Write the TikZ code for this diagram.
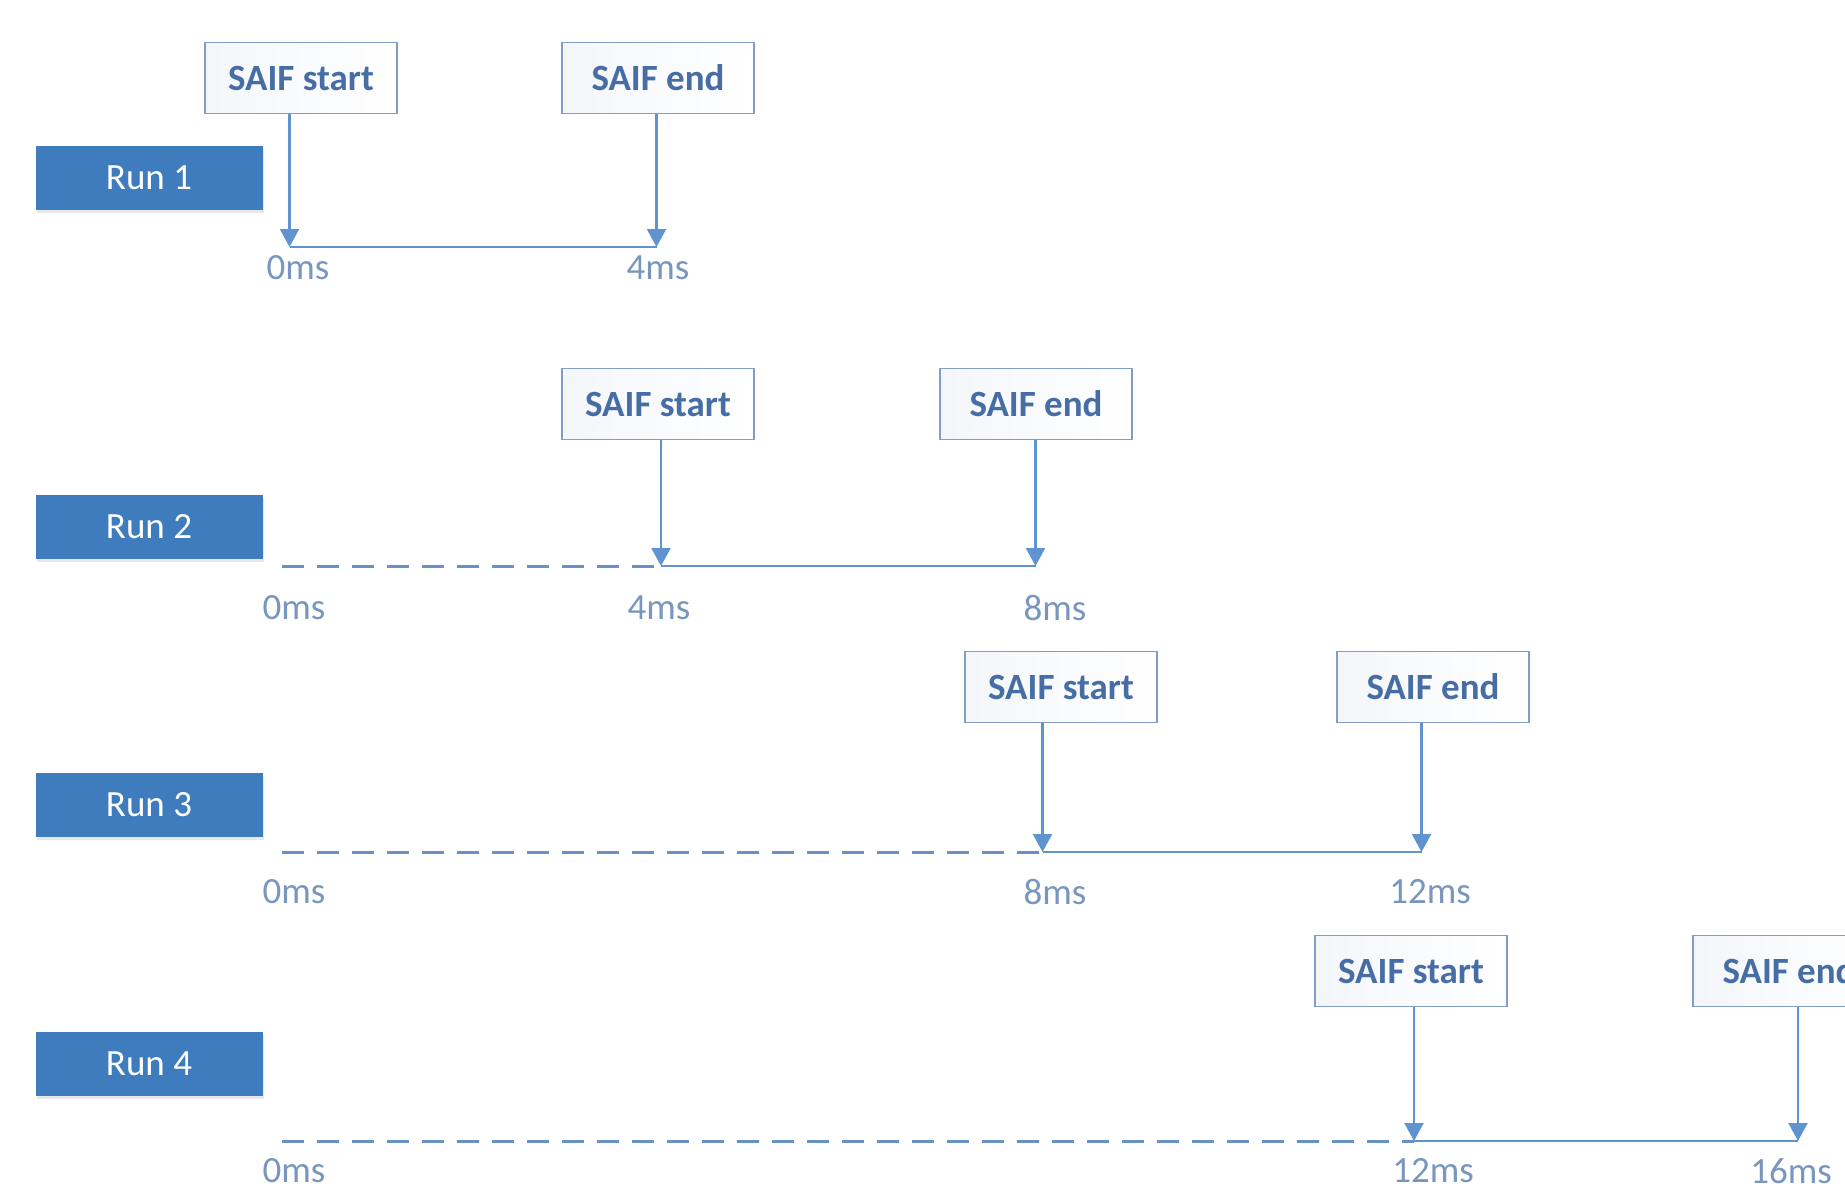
\documentclass[tikz,border=0pt]{standalone}
\usepackage{fontspec}
\setmainfont{Carlito}
\usetikzlibrary{arrows.meta,shadows}
\definecolor{runblue}{RGB}{62,124,190}
\definecolor{lineblue}{RGB}{96,148,208}
\definecolor{dashblue}{RGB}{105,145,195}
\definecolor{saifedge}{RGB}{128,158,200}
\definecolor{saiftext}{RGB}{70,110,165}
\definecolor{labeltext}{RGB}{120,150,190}
\begin{document}
\begin{tikzpicture}[x=0.5pt,y=-0.5pt,
  runbox/.style={rectangle, fill=runblue, text=white, inner sep=0pt,
    minimum width=113.5pt, minimum height=32pt,
    font=\fontsize{18.5}{20}\selectfont,
    drop shadow={opacity=0.18, shadow xshift=0.6pt, shadow yshift=-1.6pt}},
  saifbox/.style={rectangle, draw=saifedge, line width=0.9pt, inner sep=0pt,
    left color=saifedge!9, right color=white, text=saiftext,
    minimum width=96pt, minimum height=35.5pt,
    font=\bfseries\fontsize{18.5}{20}\selectfont},
  timelabel/.style={text=labeltext, font=\fontsize{18.5}{20}\selectfont},
  marker/.style={draw=lineblue, line width=1.1pt, -{Triangle[width=9.5pt,length=9pt]}},
  axisline/.style={draw=lineblue, line width=1.3pt},
  before/.style={draw=dashblue, line width=1.5pt, dash pattern=on 11pt off 6.5pt}]
\clip (0,0) rectangle (1845,1190);
\fill[white] (0,0) rectangle (1845,1190);

% ---- Run 1 ----
\node[runbox] (run1) at (149,178) {Run 1};
\node[saifbox] (s1) at (301,78) {SAIF start};
\node[saifbox] (e1) at (658,78) {SAIF end};
\coordinate (t1a) at (289.5,247);
\coordinate (t1b) at (656.5,247);
\draw[axisline] (t1a) -- (t1b);
\draw[marker] (s1.south -| t1a) -- (t1a);
\draw[marker] (e1.south -| t1b) -- (t1b);
\node[timelabel] (l1a) at (298,268) {0ms};
\node[timelabel] (l1b) at (658,268) {4ms};

% ---- Run 2 ----
\node[runbox] (run2) at (149,527) {Run 2};
\node[saifbox] (s2) at (658,404) {SAIF start};
\node[saifbox] (e2) at (1036,404) {SAIF end};
\coordinate (z2) at (282,566);
\coordinate (t2a) at (661,566);
\coordinate (t2b) at (1035.5,566);
\draw[before] (z2) -- (t2a);
\draw[axisline] (t2a) -- (t2b);
\draw[marker] (s2.south -| t2a) -- (t2a);
\draw[marker] (e2.south -| t2b) -- (t2b);
\node[timelabel] (l2z) at (294,608) {0ms};
\node[timelabel] (l2a) at (659,608) {4ms};
\node[timelabel] (l2b) at (1055,608) {8ms};

% ---- Run 3 ----
\node[runbox] (run3) at (149,805) {Run 3};
\node[saifbox] (s3) at (1061,687) {SAIF start};
\node[saifbox] (e3) at (1433,687) {SAIF end};
\coordinate (z3) at (282,852);
\coordinate (t3a) at (1042.5,852);
\coordinate (t3b) at (1421.5,852);
\draw[before] (z3) -- (t3a);
\draw[axisline] (t3a) -- (t3b);
\draw[marker] (s3.south -| t3a) -- (t3a);
\draw[marker] (e3.south -| t3b) -- (t3b);
\node[timelabel] (l3z) at (294,892) {0ms};
\node[timelabel] (l3a) at (1055,892) {8ms};
\node[timelabel] (l3b) at (1430,892) {12ms};

% ---- Run 4 ----
\node[runbox] (run4) at (149,1064) {Run 4};
\node[saifbox] (s4) at (1411,971) {SAIF start};
\node[saifbox] (e4) at (1789,971) {SAIF end};
\coordinate (z4) at (282,1141);
\coordinate (t4a) at (1414,1141);
\coordinate (t4b) at (1798,1141);
\draw[before] (z4) -- (t4a);
\draw[axisline] (t4a) -- (t4b);
\draw[marker] (s4.south -| t4a) -- (t4a);
\draw[marker] (e4.south -| t4b) -- (t4b);
\node[timelabel] (l4z) at (294,1171) {0ms};
\node[timelabel] (l4a) at (1433,1171) {12ms};
\node[timelabel] (l4b) at (1791,1171) {16ms};
\end{tikzpicture}
\end{document}
